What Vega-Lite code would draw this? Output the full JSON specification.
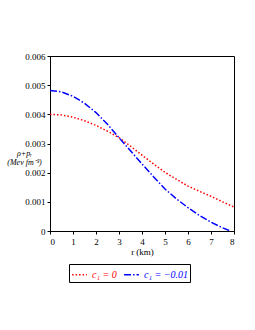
{
  "$schema": "https://vega.github.io/schema/vega-lite/v6.json",
  "width": 184,
  "height": 175,
  "autosize": "none",
  "padding": {"left": 50, "top": 56, "right": 21, "bottom": 99},
  "background": "white",
  "config": {
    "font": "Liberation Serif",
    "view": {"stroke": "black", "strokeWidth": 1},
    "axis": {"domainColor": "black", "tickColor": "black", "labelColor": "black", "titleColor": "black", "grid": false, "labelFont": "Liberation Serif", "titleFont": "Liberation Serif", "labelFontSize": 9, "titleFontSize": 9, "titleFontWeight": "normal"}
  },
  "data": {"values": [
    {"r": 0, "v": 0.00400, "s": "c₁ = 0"},
    {"r": 0.5, "v": 0.00398, "s": "c₁ = 0"},
    {"r": 1, "v": 0.00390, "s": "c₁ = 0"},
    {"r": 1.5, "v": 0.00378, "s": "c₁ = 0"},
    {"r": 2, "v": 0.00362, "s": "c₁ = 0"},
    {"r": 2.5, "v": 0.00342, "s": "c₁ = 0"},
    {"r": 3, "v": 0.00320, "s": "c₁ = 0"},
    {"r": 3.5, "v": 0.00291, "s": "c₁ = 0"},
    {"r": 4, "v": 0.00260, "s": "c₁ = 0"},
    {"r": 4.5, "v": 0.00230, "s": "c₁ = 0"},
    {"r": 5, "v": 0.00201, "s": "c₁ = 0"},
    {"r": 5.5, "v": 0.00177, "s": "c₁ = 0"},
    {"r": 6, "v": 0.00154, "s": "c₁ = 0"},
    {"r": 6.5, "v": 0.00136, "s": "c₁ = 0"},
    {"r": 7, "v": 0.00119, "s": "c₁ = 0"},
    {"r": 7.5, "v": 0.00100, "s": "c₁ = 0"},
    {"r": 8, "v": 0.00082, "s": "c₁ = 0"},
    {"r": 0, "v": 0.00482, "s": "c₁ = −0.01"},
    {"r": 0.5, "v": 0.00477, "s": "c₁ = −0.01"},
    {"r": 1, "v": 0.00462, "s": "c₁ = −0.01"},
    {"r": 1.5, "v": 0.00438, "s": "c₁ = −0.01"},
    {"r": 2, "v": 0.00406, "s": "c₁ = −0.01"},
    {"r": 2.5, "v": 0.00366, "s": "c₁ = −0.01"},
    {"r": 3, "v": 0.00320, "s": "c₁ = −0.01"},
    {"r": 3.5, "v": 0.00275, "s": "c₁ = −0.01"},
    {"r": 4, "v": 0.00230, "s": "c₁ = −0.01"},
    {"r": 4.5, "v": 0.00186, "s": "c₁ = −0.01"},
    {"r": 5, "v": 0.00144, "s": "c₁ = −0.01"},
    {"r": 5.5, "v": 0.00110, "s": "c₁ = −0.01"},
    {"r": 6, "v": 0.00080, "s": "c₁ = −0.01"},
    {"r": 6.5, "v": 0.00053, "s": "c₁ = −0.01"},
    {"r": 7, "v": 0.00030, "s": "c₁ = −0.01"},
    {"r": 7.5, "v": 0.00011, "s": "c₁ = −0.01"},
    {"r": 7.85, "v": 0.0, "s": "c₁ = −0.01"}
  ]},
  "mark": {"type": "line", "strokeWidth": 1.5, "clip": true},
  "encoding": {
    "x": {"field": "r", "type": "quantitative", "scale": {"domain": [0, 8], "nice": false},
      "axis": {"title": "r (km)", "values": [0,1,2,3,4,5,6,7,8], "tickSize": 3, "labelPadding": 3, "titlePadding": 1}},
    "y": {"field": "v", "type": "quantitative", "scale": {"domain": [0, 0.006], "nice": false},
      "axis": {"title": ["ρ+pᵣ", "(Mev fm⁻³)"], "values": [0, 0.001, 0.002, 0.003, 0.004, 0.005, 0.006], "format": "~g", "tickSize": 3, "labelPadding": 2,
        "titleAngle": 0, "titleX": -26, "titleY": 97, "titleAlign": "center", "titleBaseline": "middle", "titleFontSize": 8, "titleFontStyle": "italic", "titleLineHeight": 9}},
    "color": {"field": "s", "type": "nominal", "scale": {"domain": ["c₁ = 0", "c₁ = −0.01"], "range": ["#ff0000", "#0000ff"]},
      "legend": {"title": null, "orient": "none", "legendX": 19, "legendY": 208, "direction": "horizontal", "strokeColor": "black", "padding": 2, "symbolType": "stroke", "symbolSize": 220, "symbolStrokeWidth": 1.5, "labelFont": "Liberation Serif", "labelFontSize": 10, "labelFontStyle": "italic", "columnPadding": 4,
        "encode": {"labels": {"update": {"fill": {"signal": "datum.value === 'c₁ = 0' ? '#ff0000' : '#0000ff'"}}}}}},
    "strokeDash": {"field": "s", "type": "nominal", "scale": {"domain": ["c₁ = 0", "c₁ = −0.01"], "range": [[1.5, 2], [7, 2, 1.5, 2]]}, "legend": null}
  }
}
